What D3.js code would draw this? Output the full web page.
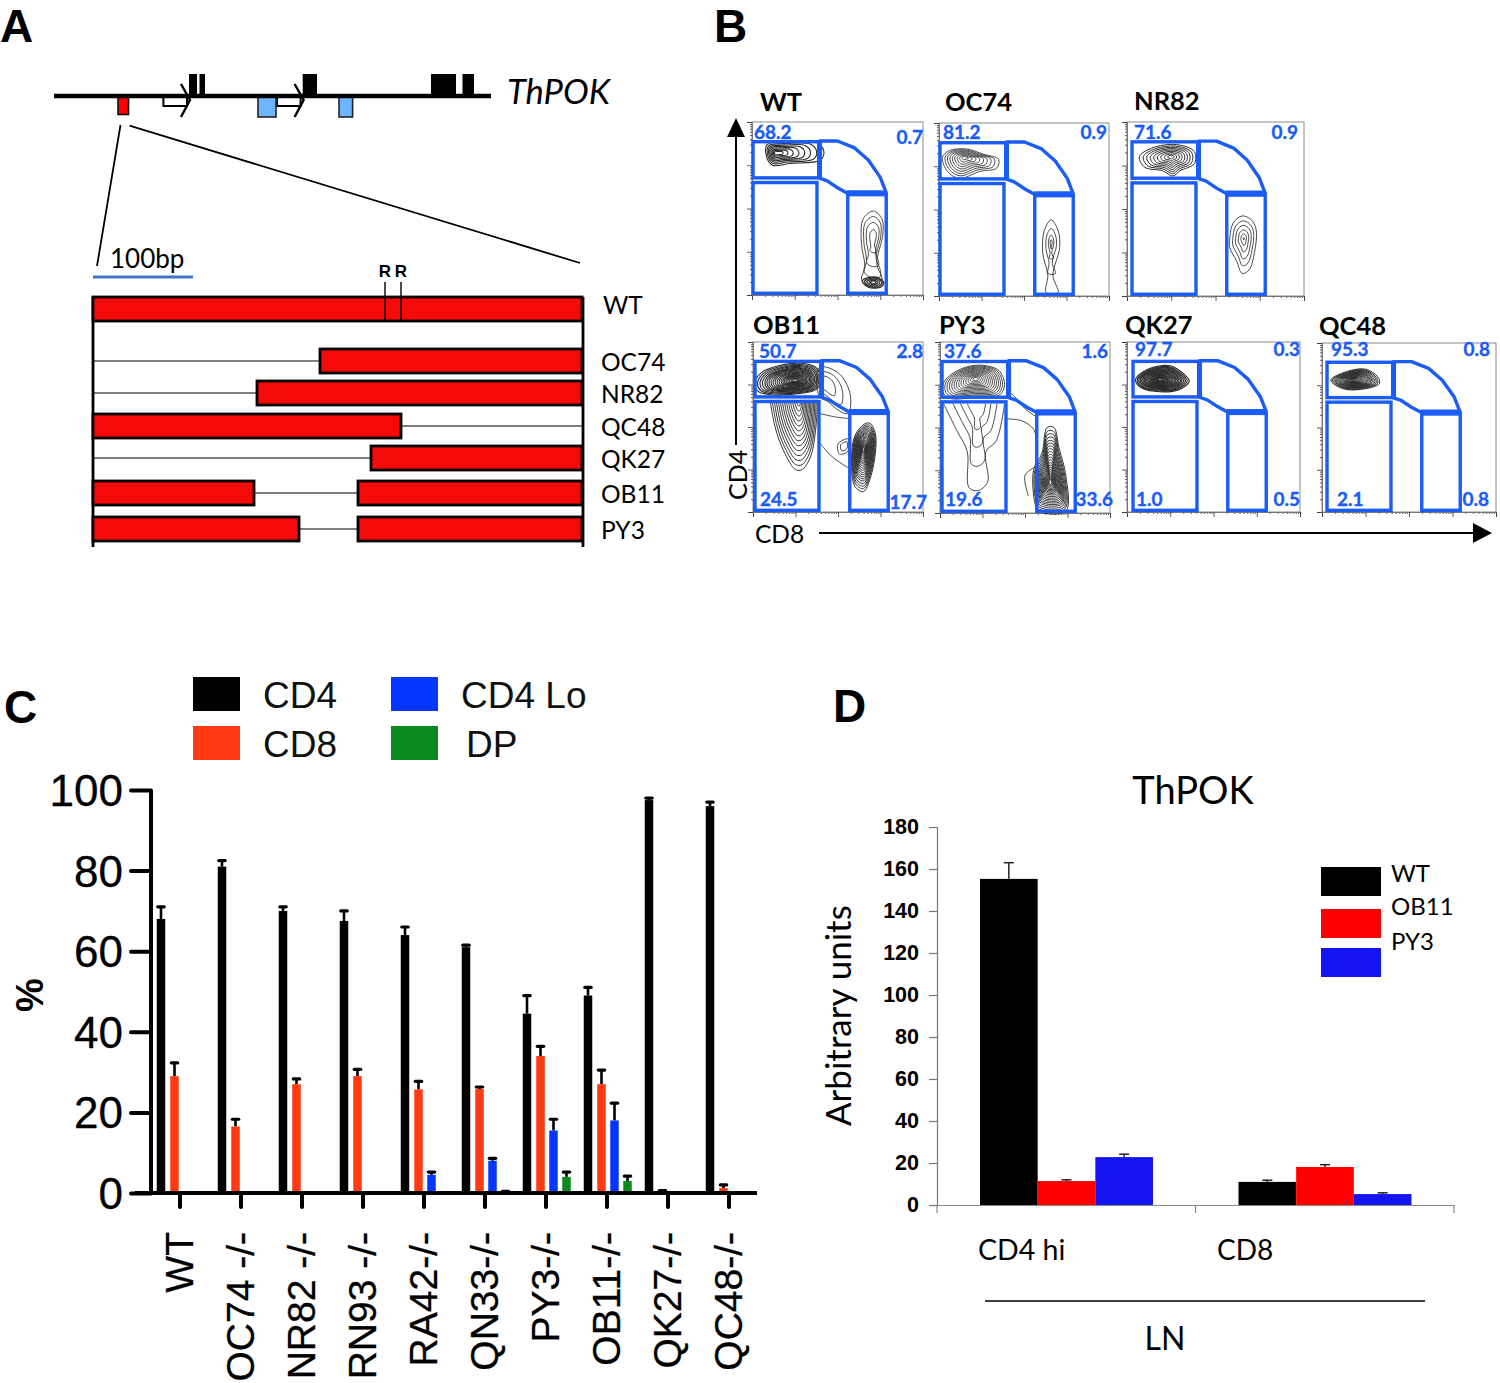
<!DOCTYPE html>
<html><head><meta charset="utf-8">
<script src="https://cdn.jsdelivr.net/npm/d3@7"></script>
<style>html,body{margin:0;padding:0;background:#fff}svg{display:block}text{fill:#000}</style>
</head><body><svg id="c" width="1500" height="1383"></svg>
<script>
// ---------- Panel C data ----------
const cCategories = ["WT","OC74 -/-","NR82 -/-","RN93 -/-","RA42-/-","QN33-/-","PY3-/-","OB11-/-","QK27-/-","QC48-/-"];
const cSeriesNames = ["CD4","CD8","CD4 Lo","DP"];
const cCD4    = [68,81,70,67.5,64,61,44.5,49,97.5,96];
const cCD4Top = [71,82.5,71,70,66,61.5,49,51,98,97];
const cCD8    = [29,16.5,27,29,25.7,25.8,34,27,0.4,1.2];
const cCD8Top = [32.3,18.3,28.3,30.7,27.7,26.3,36.4,30.5,0.6,2];
const cLo     = [0,0,0,0,4.5,8,15.5,18,0,0];
const cLoTop  = [0,0,0,0,5.2,8.6,18.3,22.3,0,0];
const cDP     = [0,0,0,0,0,0.3,4,3,0,0];
const cDPTop  = [0,0,0,0,0,0.4,5.2,4.2,0,0];
const cTicks  = [0,20,40,60,80,100];
// ---------- Panel D data ----------
const dGroups = ["CD4 hi","CD8"];
const dSeries = ["WT","OB11","PY3"];
const dWT = [155.3,11], dWTTop = [163,11.8];
const dOB = [11.4,18.1],dOBTop = [12,19.2];
const dPY = [22.8,5.2], dPYTop = [24.2,5.8];
const dTicks = [0,20,40,60,80,100,120,140,160,180];
// ---------- Panel A data (bp along the 489 bp enhancer) ----------
const aRows = ["WT","OC74","NR82","QC48","QK27","OB11","PY3"];
const aSegments = [[[0,489]],[[227,489]],[[164,489]],[[0,308]],[[278,489]],[[0,161],[265,489]],[[0,206],[265,489]]];
const aLinks = [[],[[0,227]],[[0,164]],[[308,489]],[[0,278]],[[161,265]],[[206,265]]];
const aRSites = [292,308];
const geneExons = [[189,197],[199.5,205],[302.7,317],[431,456],[462.5,474]];
const geneBlue = [[258,276],[339,352.6]];
const geneRed = [118,128.5];
const geneArrows = [[163.4,190],[277,303.6]];
// ---------- Panel B data ----------
const bNames = ["WT","OC74","NR82","OB11","PY3","QK27","QC48"];
const bTopLeft  = ["68.2","81.2","71.6","50.7","37.6","97.7","95.3"];
const bTopRight = ["0.7","0.9","0.9","2.8","1.6","0.3","0.8"];
const bLowLeft  = [null,null,null,"24.5","19.6","1.0","2.1"];
const bLowRight = [null,null,null,"17.7","33.6","0.5","0.8"];
// contour outlines, in % of the plot frame; l = nested contour factors toward focus f
const L9=[1,.88,.77,.66,.55,.44,.33,.22,.11];
const L14=[1,.93,.86,.79,.72,.65,.58,.51,.44,.37,.3,.23,.16,.09];
const L20=[1,.93,.87,.81,.75,.7,.65,.6,.55,.5,.45,.4,.35,.31,.27,.23,.19,.15,.11,.07];
const bContours = [
 [{o:[[9,87],[22,88.5],[38,88],[42,83],[40,78],[22,76],[12,75],[8.5,80]],f:[14,82],l:[1,.85,.72,.6,.48,.36,.25,.15],w:1.1},
  {o:[[71,48.5],[65,44],[64,30],[66,16],[64,9],[68,5],[76,5],[76,10],[73,18],[76.5,35],[76,44]],f:[71,33],l:[1,.8,.58,.3]},
  {o:[[64.5,8],[68,10],[74,10],[77,7],[75,4.5],[68,4.5]],f:[71,7.3],l:[1,.8,.6,.4,.25],w:1.2}],
 [{o:[[2,80],[6,84],[16,85],[26,82],[35,79],[34,74],[24,72],[12,68],[5,72]],f:[15,80],l:L9},
  {o:[[66,44],[62,38],[61,25],[64,12],[63,2],[70,2],[67,12],[71,28],[70,38]],f:[66,31],l:[1,.62,.32,.12]}],
 [{o:[[7,80],[14,85],[28,87],[38,83],[38,76],[30,72],[26,69],[20,72],[10,74]],f:[25,80],l:L9,w:1},
  {o:[[65,46],[60,42],[58,33],[58,28],[62,20],[65,13],[69,15],[72,25],[73,38],[70,44]],f:[66,33],l:[1,.78,.58,.38,.2,.04]}],
 [{o:[[39,85],[50,82],[57,70],[56,58],[50,60],[44,65],[39,68]],f:[42,76],l:[1,.7,.42]},
  {o:[[39,58],[48,56],[56,55]],f:[39,58],l:[1],open:1},
  {o:[[39,41],[46,33],[56,26]],f:[39,41],l:[1],open:1},
  {o:[[56,43],[50,40],[51,34],[56,36]],f:[54,39],l:[1,.6]},
  {o:[[10,66],[13,50],[18,36],[25,25],[29,25],[34,33],[37,50],[38,66]],f:[27,66],l:L14,open:1,w:.95},
  {o:[[1,76],[5,82],[15,86],[28,87.5],[37,85],[40,78],[37,72],[25,69.5],[10,69],[3,71]],f:[25,77.5],l:L20,w:1.1},
  {o:[[66,52],[60,45],[58,30],[60,15],[65,12],[69,20],[72,35],[72,46],[69,52]],f:[65,37],l:L20,w:1}],
 [{o:[[2,64],[10,48],[16,36],[17,15],[22,13],[28,18],[27,36],[33,42],[38,64]],f:[22,64],l:[1,.72,.5,.3],open:1},
  {o:[[2,76],[8,82],[18,86],[28,86],[35,83],[38,75],[35,69],[20,67.5],[6,67],[2,70]],f:[21,78.5],l:L14},
  {o:[[63,50],[60,35],[55,25],[56,5],[58,1],[74,1],[74,22],[70,38],[67,50]],f:[65,18],l:L20,w:.95},
  {o:[[39,55],[48,54],[55,49],[57,42]],f:[39,55],l:[1],open:1},
  {o:[[56,27],[50,22],[52,10]],f:[56,27],l:[1],open:1},
  {o:[[39,72],[44,68],[50,61],[57,56]],f:[39,72],l:[1],open:1}],
 [{o:[[5,78],[12,84],[25,86],[33,81],[36,77],[30,72],[16,71],[7,74]],f:[19,78],l:L20,w:1.15}],
 [{o:[[5,78],[14,83],[25,84.5],[32,80],[33,76],[22,72.5],[12,73]],f:[18,78],l:L20,w:1}]
];
// gates, in % of a 171 px wide gate grid
const gateCD4 = [0.6,39,67.7,88.6], gateLow = [0.6,38,1,65], gateCD8 = [56,78.5,1,58];
const gateDP = [[39.5,89],[50,89],[60,85],[68,78],[75,68],[78.5,59],[55.5,59],[50,62],[44,66],[39.5,67.5]];

// ---------- Layout ----------
const C_BLACK="#000",C_RED="#ff3a12",C_BLUE="#0436ff",C_GREEN="#0a8a1e",GATE="#1a5cf5";
const bFrames=[
 {x0:752,x1:923,y0:122,y1:295,g0:752,tl:[754,139],tr:[923,144]},
 {x0:939,x1:1109,y0:123,y1:296,g0:939,tl:[943,139],tr:[1107,139]},
 {x0:1127,x1:1304,y0:122,y1:296,g0:1131,tl:[1134,139],tr:[1298,139]},
 {x0:753,x1:923,y0:342,y1:512,g0:754,tl:[759,358],tr:[923,358],bl:[760,506],br:[927,509]},
 {x0:940,x1:1110,y0:342,y1:513,g0:941,tl:[944,358],tr:[1108,358],bl:[945,506],br:[1113,506]},
 {x0:1127,x1:1300,y0:342,y1:512,g0:1132,tl:[1135,356],tr:[1300,356],bl:[1136,506],br:[1300,506]},
 {x0:1322,x1:1496,y0:343,y1:512,g0:1326,tl:[1331,356],tr:[1490,356],bl:[1337,506],br:[1489,506]}
];
const bTitleY=[111,111,110,334,334,334,335], bTitleX=[760,945,1134,753,939,1125,1319];

const svg=d3.select("#c");
const SANS="Lato, Carlito, sans-serif", ARIAL="'Liberation Sans', Arial, sans-serif";
function txt(g,s,x,y,size,o={}){
  const t=g.append("text").attr("x",x).attr("y",y).attr("font-size",size).attr("font-family",o.f||SANS)
   .attr("font-weight",o.w||"normal").attr("font-style",o.i||"normal").attr("text-anchor",o.a||"start").text(s);
  if(o.fill) t.style("fill",o.fill);
  if(o.rot!=null) t.attr("transform",`rotate(${o.rot},${x},${y})`);
  return t;
}
[["A",0,42],["B",714,42],["C",4,723],["D",833,722]].forEach(d=>txt(svg,d[0],d[1],d[2],46,{w:"bold",f:ARIAL}));

// ---------- Panel A ----------
{
 const g=svg.append("g");
 const bx=d3.scaleLinear().domain([0,489]).range([93,582]);
 const rowY=d3.scaleOrdinal().domain(aRows).range([309,361,393,426,458,493,529]);
 const line=(x1,y1,x2,y2,w,c="#000")=>g.append("line").attr("x1",x1).attr("y1",y1).attr("x2",x2).attr("y2",y2).attr("stroke",c).attr("stroke-width",w);
 geneExons.forEach(e=>g.append("rect").attr("x",e[0]).attr("y",74).attr("width",e[1]-e[0]).attr("height",23).attr("fill","#000"));
 const arrow=d3.line();
 geneArrows.forEach(a=>{
  const h=a[1]-9;
  g.append("path").attr("d",arrow([[a[0],97],[a[1]-3,97],[a[1]-3,106],[a[0],106]])+"Z").attr("fill","#fff").attr("stroke","#000").attr("stroke-width",2);
  g.append("path").attr("d",arrow([[h,84],[a[1],100],[h,117]])).attr("fill","none").attr("stroke","#000").attr("stroke-width",2.4);
 });
 geneBlue.forEach(e=>g.append("rect").attr("x",e[0]).attr("y",97).attr("width",e[1]-e[0]).attr("height",20).attr("fill","#6db6ff").attr("stroke","#222").attr("stroke-width",1.6));
 g.append("rect").attr("x",geneRed[0]).attr("y",97).attr("width",geneRed[1]-geneRed[0]).attr("height",17.5).attr("fill","#f00").attr("stroke","#111").attr("stroke-width",1.6);
 line(54,96,491,96,4.5);
 txt(g,"ThPOK",507,104,34.5,{i:"italic"});
 line(120.5,125,97,266,1.8); line(129.5,125.7,580,263,1.8);
 line(bx(0),277,bx(100),277,3,"#4472c4");
 txt(g,"100bp",110,268,26);
 line(bx(0),297,bx(0),547,2.8); line(bx(489)+1,297,bx(489)+1,547,2.8);
 aRows.forEach((r,i)=>{
  const y=rowY(r);
  aLinks[i].forEach(l=>line(bx(l[0]),y,bx(l[1]),y,1.2));
  aSegments[i].forEach(s=>g.append("rect").attr("x",bx(s[0])).attr("y",y-12).attr("width",bx(s[1])-bx(s[0])).attr("height",24).attr("fill","#f50a0a").attr("stroke","#000").attr("stroke-width",2.8));
  txt(g,r,r==="WT"?603:601,y+(r==="WT"?5:10),24.5);
 });
 aRSites.forEach(b=>{line(bx(b),282,bx(b),321,1.4);txt(g,"R",bx(b),277,17,{w:"bold",a:"middle",f:ARIAL});});
}

// ---------- Panel B ----------
{
 const g=svg.append("g");
 bFrames.forEach((f,i)=>{
  const p=g.append("g");
  const xn=d3.scaleLinear().domain([0,100]).range([f.x0,f.x1]);
  const yn=d3.scaleLinear().domain([0,100]).range([f.y1,f.y0]);
  const gx=d3.scaleLinear().domain([0,100]).range([f.g0,f.g0+171]);
  p.append("rect").attr("x",f.x0).attr("y",f.y0).attr("width",f.x1-f.x0).attr("height",f.y1-f.y0).attr("fill","none").attr("stroke","#8a8a8a").attr("stroke-width",1);
  const lx=d3.scaleLog().domain([1,1e4]).range([f.x0,f.x1]);
  const ly=d3.scaleLog().domain([1,1e4]).range([f.y1,f.y0]);
  const minor=s=>s.ticks().filter(t=>Math.abs(Math.log10(t)%1)>1e-9);
  const major=[1,10,100,1000,10000];
  const ax=p.append("g").attr("transform",`translate(0,${f.y1})`);
  ax.call(d3.axisBottom(lx).tickValues(minor(lx)).tickSize(2).tickFormat(""));
  ax.append("g").call(d3.axisBottom(lx).tickValues(major).tickSize(5).tickFormat(""));
  const ay=p.append("g").attr("transform",`translate(${f.x0},0)`);
  ay.call(d3.axisLeft(ly).tickValues(minor(ly)).tickSize(2).tickFormat(""));
  ay.append("g").call(d3.axisLeft(ly).tickValues(major).tickSize(5).tickFormat(""));
  p.selectAll(".domain").attr("stroke","#777").attr("stroke-width",1);
  p.selectAll(".tick line").attr("stroke","#333").attr("stroke-width",.8);
  const closed=d3.line().x(d=>xn(d[0])).y(d=>yn(d[1])).curve(d3.curveCatmullRomClosed.alpha(.5));
  const opened=d3.line().x(d=>xn(d[0])).y(d=>yn(d[1])).curve(d3.curveCatmullRom.alpha(.5));
  bContours[i].forEach(c=>{
   c.l.forEach(k=>{
    const pts=c.o.map(q=>[c.f[0]+(q[0]-c.f[0])*k,c.f[1]+(q[1]-c.f[1])*k]);
    p.append("path").attr("d",(c.open?opened:closed)(pts)).attr("fill","none").attr("stroke","#2b2b2b").attr("stroke-width",c.w||.85);
   });
  });
  const rectG=b=>p.append("rect").attr("x",gx(b[0])).attr("y",yn(b[3])).attr("width",gx(b[1])-gx(b[0])).attr("height",yn(b[2])-yn(b[3])).attr("fill","none").attr("stroke",GATE).attr("stroke-width",3.4);
  rectG(gateCD4);rectG(gateLow);rectG(gateCD8);
  const dp=d3.line().x(d=>gx(d[0])).y(d=>yn(d[1]));
  p.append("path").attr("d",dp(gateDP)+"Z").attr("fill","none").attr("stroke",GATE).attr("stroke-width",3.4).attr("stroke-linejoin","round");
  p.append("path").attr("d",dp([gateDP[0],gateDP[9]])).attr("stroke",GATE).attr("stroke-width",5);
  p.append("path").attr("d",dp([gateDP[5],gateDP[6]])).attr("stroke",GATE).attr("stroke-width",5.5);
  txt(p,bNames[i],bTitleX[i],bTitleY[i],25.5,{w:"bold"});
  const vLabel=(s,pos,a)=>{ if(s&&pos) txt(p,s,pos[0],pos[1],19,{w:"bold",a,fill:GATE}).style("stroke",GATE).style("stroke-width",.35); };
  vLabel(bTopLeft[i],f.tl,"start");vLabel(bTopRight[i],f.tr,"end");vLabel(bLowLeft[i],f.bl,"start");vLabel(bLowRight[i],f.br,"end");
 });
 g.append("line").attr("x1",736).attr("y1",445).attr("x2",736).attr("y2",130).attr("stroke","#000").attr("stroke-width",2);
 g.append("path").attr("d","M727,137L745,137L736,118Z").attr("fill","#000");
 g.append("line").attr("x1",819).attr("y1",533).attr("x2",1478).attr("y2",533).attr("stroke","#000").attr("stroke-width",2);
 g.append("path").attr("d","M1473,523L1473,543L1492,533Z").attr("fill","#000");
 txt(g,"CD4",747,500,25,{rot:-90});
 txt(g,"CD8",755,543,24.5);
}

// ---------- Panel C ----------
{
 const g=svg.append("g");
 const y=d3.scaleLinear().domain([0,100]).range([1193,790]);
 const x=d3.scaleBand().domain(cCategories).range([149.5,149.5+61*10]);
 const series=[[cCD4,cCD4Top,C_BLACK,-19],[cCD8,cCD8Top,C_RED,-5.5],[cLo,cLoTop,C_BLUE,7.5],[cDP,cDPTop,C_GREEN,20.5]];
 const W=8.5;
 series.forEach(s=>{
  cCategories.forEach((c,i)=>{
   const v=s[0][i]; if(!v) return;
   const cx=x(c)+x.bandwidth()/2+s[3];
   g.append("line").attr("x1",cx).attr("x2",cx).attr("y1",y(v)).attr("y2",y(s[1][i])).attr("stroke","#000").attr("stroke-width",2.6);
   g.append("line").attr("x1",cx-3.2).attr("x2",cx+3.2).attr("y1",y(s[1][i])).attr("y2",y(s[1][i])).attr("stroke","#000").attr("stroke-width",3.2).attr("stroke-linecap","round");
   g.append("rect").attr("x",cx-W/2).attr("y",y(v)).attr("width",W).attr("height",y(0)-y(v)).attr("fill",s[2]);
  });
 });
 const ay=g.append("g").attr("transform","translate(151,0)").call(d3.axisLeft(y).tickValues(cTicks).tickSize(20).tickPadding(8));
 ay.selectAll(".domain").attr("stroke","#000").attr("stroke-width",4).attr("d",`M0,${y(100)}V${y(0)}`);
 ay.selectAll(".tick line").attr("stroke","#000").attr("stroke-width",4).attr("stroke-linecap","round");
 ay.selectAll(".tick text").attr("font-size",44).attr("font-family",ARIAL).attr("dy",".35em").style("stroke","#000").style("stroke-width",.3);
 const ax=g.append("g").attr("transform","translate(0,1193)").call(d3.axisBottom(x).tickSize(14).tickPadding(0));
 ax.selectAll(".domain").attr("stroke","#000").attr("stroke-width",4).attr("d","M135,0H757");
 ax.selectAll(".tick line").attr("stroke","#000").attr("stroke-width",4).attr("stroke-linecap","round");
 ax.selectAll(".tick text").attr("font-size",39).attr("font-family",ARIAL).attr("text-anchor","end").attr("dy",0).attr("x",0).attr("y",0)
   .attr("transform","translate(13,39) rotate(-90)").style("stroke","#000").style("stroke-width",.3);
 txt(g,"%",43,1012,38,{rot:-90,w:"bold",f:ARIAL});
 const lg=[[193,677,C_BLACK,263],[193,726,C_RED,263],[391,677,C_BLUE,461],[391,726,C_GREEN,466]];
 cSeriesNames.forEach((n,i)=>{
  g.append("rect").attr("x",lg[i][0]).attr("y",lg[i][1]).attr("width",47).attr("height",34).attr("fill",lg[i][2]);
  txt(g,n,lg[i][3],lg[i][1]+31,37,{f:ARIAL,fill:"#111"});
 });
}

// ---------- Panel D ----------
{
 const g=svg.append("g");
 const y=d3.scaleLinear().domain([0,180]).range([1205,827]);
 const x0=d3.scaleBand().domain(dGroups).range([937,1454]);
 const x1=d3.scaleBand().domain(dSeries).range([43,216]);
 const cols=["#000","#ff0000","#1414f0"];
 const vals=[dWT,dOB,dPY], tops=[dWTTop,dOBTop,dPYTop];
 dSeries.forEach((s,k)=>dGroups.forEach((c,i)=>{
  const l=x0(c)+x1(s), w=x1.bandwidth(), m=l+w/2;
  g.append("line").attr("x1",m).attr("x2",m).attr("y1",y(vals[k][i])).attr("y2",y(tops[k][i])).attr("stroke","#222").attr("stroke-width",1.5);
  g.append("line").attr("x1",m-5).attr("x2",m+5).attr("y1",y(tops[k][i])).attr("y2",y(tops[k][i])).attr("stroke","#222").attr("stroke-width",1.5);
  g.append("rect").attr("x",l).attr("y",y(vals[k][i])).attr("width",w).attr("height",y(0)-y(vals[k][i])).attr("fill",cols[k]);
 }));
 const ay=g.append("g").attr("transform","translate(937,0)").call(d3.axisLeft(y).tickValues(dTicks).tickSize(8).tickPadding(10));
 ay.selectAll(".domain").attr("stroke","#777").attr("stroke-width",1.2);
 ay.selectAll(".tick line").attr("stroke","#777").attr("stroke-width",1.2);
 ay.selectAll(".tick text").attr("font-size",21.5).attr("font-weight","bold").attr("font-family",ARIAL);
 const ax=g.append("g").attr("transform","translate(0,1205)").call(d3.axisBottom(x0).tickValues([]).tickSizeOuter(0));
 ax.selectAll(".domain").attr("stroke","#888").attr("stroke-width",1.2);
 [x0.range()[0],x0(dGroups[1]),x0.range()[1]].forEach(v=>g.append("line").attr("x1",v).attr("x2",v).attr("y1",1205).attr("y2",1213).attr("stroke","#888").attr("stroke-width",1.2));
 txt(g,"ThPOK",1193,804,38,{a:"middle"});
 txt(g,"Arbitrary units",851,1126,35,{rot:-90});
 txt(g,dGroups[0],978,1260,28.5);
 txt(g,dGroups[1],1217,1260,28);
 g.append("line").attr("x1",985).attr("x2",1425).attr("y1",1301).attr("y2",1301).attr("stroke","#000").attr("stroke-width",1.6);
 txt(g,"LN",1165,1350,32,{a:"middle"});
 [[867,882],[909,915],[948,950]].forEach((d,i)=>{
  g.append("rect").attr("x",1321).attr("y",d[0]).attr("width",60).attr("height",29).attr("fill",cols[i]);
  txt(g,dSeries[i],1391,d[1],24);
 });
}
</script></body></html>
